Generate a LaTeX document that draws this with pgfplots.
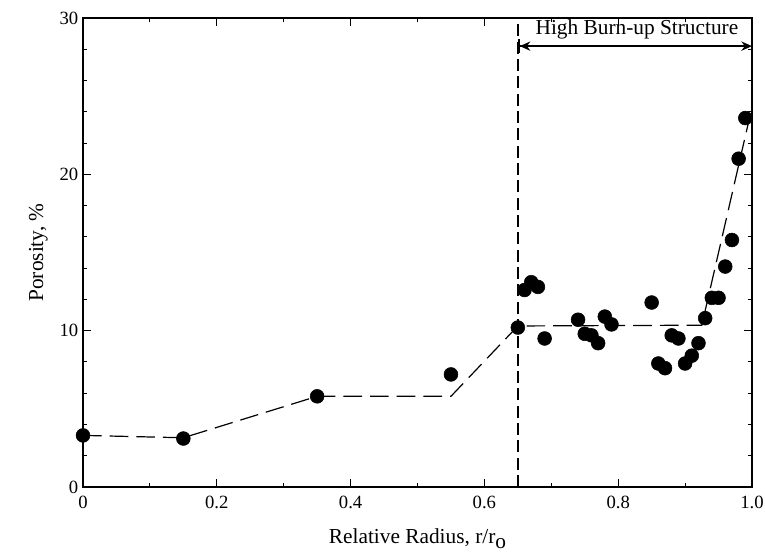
\documentclass[border=0pt]{standalone}
\usepackage{fontspec}
\setmainfont{Liberation Serif}
\usepackage{pgfplots}
\pgfplotsset{compat=1.18}
\usetikzlibrary{arrows.meta}

\begin{document}
\begin{tikzpicture}
\useasboundingbox (-62.25pt,-51.75pt) rectangle (511.5pt,365.25pt);
\begin{axis}[
    scale only axis,
    width=501.75pt, height=351.75pt,
    xmin=0, xmax=1, ymin=0, ymax=30,
    xtick={0,0.2,0.4,0.6,0.8,1},
    xticklabels={0,0.2,0.4,0.6,0.8,1.0},
    ytick={0,10,20,30},
    minor x tick num=1,
    minor y tick num=4,
    tick align=inside,
    major tick length=6pt,
    minor tick length=3pt,
    axis line style={line width=1.4pt},
    every tick/.style={black, line width=0.8pt},
    /pgf/number format/assume math mode=true,
    tick label style={font=\fontsize{14}{16}\selectfont},
    xticklabel style={yshift=-3pt},
    xlabel={Relative Radius, r/r\raisebox{-4pt}{o}},
    ylabel={Porosity, \%},
    label style={font=\fontsize{16}{18}\selectfont},
    xlabel style={yshift=-8pt},
    ylabel style={yshift=2pt},
    clip=false,
]
% dashed trend line
\addplot[black, line width=0.9pt, dash pattern=on 14pt off 6pt] coordinates {
(0,3.3) (0.15,3.15) (0.35,5.8) (0.55,5.8) (0.65,10.3) (0.925,10.35) (1.0,24.3)
};
% measured porosity
\addplot[only marks, mark=*, mark size=5.2pt, black] coordinates {
(0,3.3) (0.15,3.1) (0.35,5.8) (0.55,7.2) (0.65,10.2)
(0.66,12.6) (0.67,13.1) (0.68,12.8) (0.69,9.5)
(0.74,10.7) (0.75,9.8) (0.76,9.7) (0.77,9.2) (0.78,10.9) (0.79,10.4)
(0.85,11.8) (0.86,7.9) (0.87,7.6) (0.88,9.7) (0.89,9.5) (0.90,7.9)
(0.91,8.4) (0.92,9.2) (0.93,10.8) (0.94,12.1) (0.95,12.1) (0.96,14.1)
(0.97,15.8) (0.98,21.0) (0.99,23.6)
};
% HBS boundary
\addplot[black, line width=1.6pt, dash pattern=on 9pt off 4pt] coordinates {(0.65,0) (0.65,30)};
\draw[{Bar[width=10pt,line width=1.4pt]Stealth[length=8pt,width=7pt]}-{Stealth[length=8pt,width=7pt]}, line width=1pt]
    (axis cs:0.65,28.2) -- (axis cs:1.0,28.2);
\node[font=\fontsize{16}{18}\selectfont] at (axis cs:0.828,29.25) {High Burn-up Structure};
\end{axis}
\end{tikzpicture}
\end{document}
